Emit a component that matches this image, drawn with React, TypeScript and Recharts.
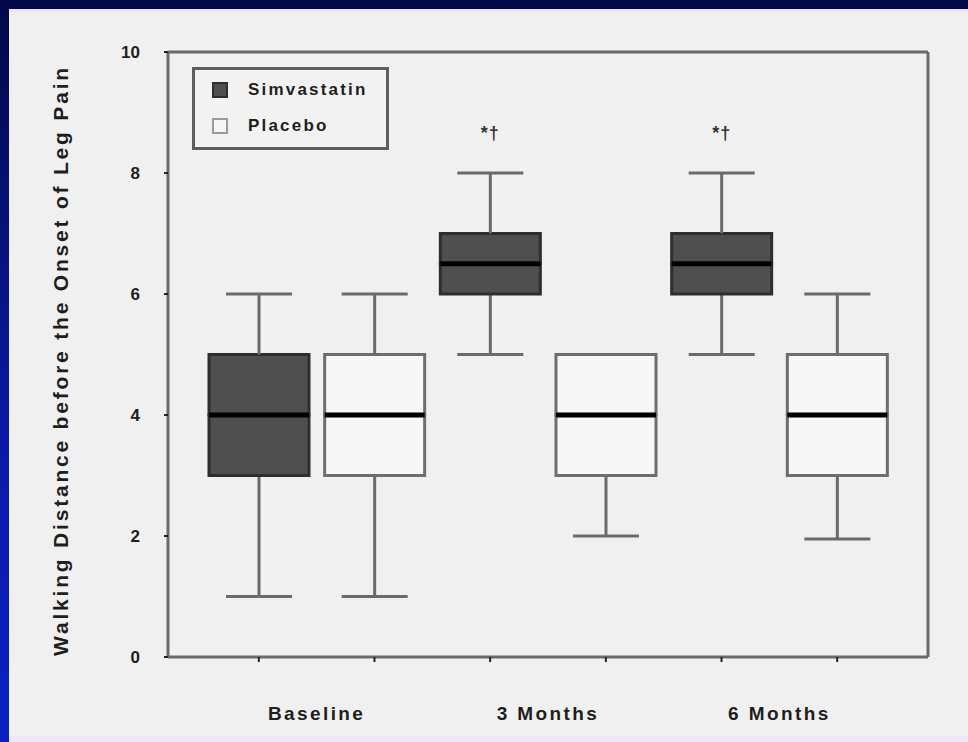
import React from "react";
import {
  ComposedChart,
  Bar,
  XAxis,
  YAxis,
  LabelList,
} from "recharts";

// box plot summary per slot
const slots = ["b-s", "b-p", "3-s", "3-p", "6-s", "6-p"];
const groups = ["Baseline", "Baseline", "3 Months", "3 Months", "6 Months", "6 Months"];
const arms = ["Simvastatin", "Placebo", "Simvastatin", "Placebo", "Simvastatin", "Placebo"];
const mins = [1, 1, 5, 2, 5, 1.95];
const q1s = [3, 3, 6, 3, 6, 3];
const medians = [4, 4, 6.5, 4, 6.5, 4];
const q3s = [5, 5, 7, 5, 7, 5];
const maxs = [6, 6, 8, 5, 8, 6];
const marks = ["", "", "*†", "", "*†", ""];

const yTicks = [0, 2, 4, 6, 8, 10];
const legendItems = ["Simvastatin", "Placebo"];

const FONT = "'Liberation Sans', Arial, sans-serif";
const DARK_FILL = "#4f4f4f";
const DARK_STROKE = "#2e2e2e";
const LIGHT_FILL = "#f7f7f7";
const LIGHT_STROKE = "#6e6e6e";
const AXIS = "#6a6a6a";

const data = slots.map((slot, i) => ({
  slot,
  group: groups[i],
  arm: arms[i],
  mark: marks[i],
  base: mins[i],
  lowWhisker: q1s[i] - mins[i],
  lowBox: medians[i] - q1s[i],
  upBox: q3s[i] - medians[i],
  upWhisker: maxs[i] - q3s[i],
}));

const strokeFor = (arm: string) => (arm === "Simvastatin" ? DARK_STROKE : LIGHT_STROKE);
const fillFor = (arm: string) => (arm === "Simvastatin" ? DARK_FILL : LIGHT_FILL);

const LowWhisker = (props: any) => {
  const { x, y, width, height } = props;
  if (!height || height <= 0) return null;
  const cx = x + width / 2;
  const cap = width * 0.33;
  return (
    <g stroke={AXIS} strokeWidth={3}>
      <line x1={cx} x2={cx} y1={y} y2={y + height} />
      <line x1={cx - cap} x2={cx + cap} y1={y + height} y2={y + height} />
    </g>
  );
};

const UpWhisker = (props: any) => {
  const { x, y, width, height } = props;
  if (!height || height <= 0) return null;
  const cx = x + width / 2;
  const cap = width * 0.33;
  return (
    <g stroke={AXIS} strokeWidth={3}>
      <line x1={cx} x2={cx} y1={y} y2={y + height} />
      <line x1={cx - cap} x2={cx + cap} y1={y} y2={y} />
    </g>
  );
};

const BoxHalf = (props: any) => {
  const { x, y, width, height, payload } = props;
  if (!height || height <= 0) return null;
  return (
    <rect
      x={x}
      y={y}
      width={width}
      height={height}
      fill={fillFor(payload.arm)}
      stroke={strokeFor(payload.arm)}
      strokeWidth={3}
    />
  );
};

const UpperBox = (props: any) => {
  const { x, y, width, height, payload } = props;
  if (height == null || height < 0) return null;
  return (
    <g>
      <rect
        x={x}
        y={y}
        width={width}
        height={height}
        fill={fillFor(payload.arm)}
        stroke={strokeFor(payload.arm)}
        strokeWidth={3}
      />
      {/* median */}
      <line x1={x} x2={x + width} y1={y + height} y2={y + height} stroke="#000" strokeWidth={5} />
    </g>
  );
};

const MarkLabel = (props: any) => {
  const { x, y, width, value } = props;
  if (!value) return null;
  return (
    <text
      x={x + width / 2}
      y={y - 34}
      textAnchor="middle"
      fontFamily={FONT}
      fontWeight="bold"
      fontSize={18}
      letterSpacing={1}
      fill="#333"
    >
      {value}
    </text>
  );
};

const YLabel = (props: any) => {
  const vb = props.viewBox || { x: 0, y: 52, height: 605 };
  const cx = vb.x + 62;
  const cy = vb.y + vb.height / 2 + 6;
  return (
    <text
      x={cx}
      y={cy}
      transform={`rotate(-90 ${cx} ${cy})`}
      textAnchor="middle"
      dominantBaseline="middle"
      fontFamily={FONT}
      fontWeight="bold"
      fontSize={21}
      letterSpacing={2.8}
      fill="#1e1e1e"
    >
      Walking Distance before the Onset of Leg Pain
    </text>
  );
};

export default function App() {
  return (
    <div
      style={{
        position: "absolute",
        left: 0,
        top: 0,
        width: 968,
        height: 742,
        overflow: "hidden",
        background: "linear-gradient(180deg, #020848 0%, #0a1aa8 60%, #0b1fc4 100%)",
      }}
    >
      <div
        style={{
          position: "absolute",
          left: 9,
          top: 9,
          right: 0,
          bottom: 0,
          background: "#f0f0f0",
          borderTop: "3px solid #e8e8f6",
          borderBottom: "6px solid #ece8fa",
        }}
      />
      <div style={{ position: "absolute", left: 0, top: 0 }}>
        <ComposedChart
          width={968}
          height={742}
          data={data}
          margin={{ top: 51, right: 39, bottom: 0, left: 0 }}
          barSize={100}
        >
          <XAxis
            dataKey="slot"
            padding={{ left: 33, right: 33 }}
            height={30}
            axisLine={{ stroke: AXIS, strokeWidth: 3 }}
            tickLine={{ stroke: "#222", strokeWidth: 2 }}
            tickSize={5}
            tickFormatter={() => ""}
          />
          <XAxis
            xAxisId="group"
            dataKey="group"
            allowDuplicatedCategory={false}
            padding={{ left: 33, right: 33 }}
            height={55}
            axisLine={false}
            tickLine={false}
            tickMargin={14}
            tick={{ fontFamily: FONT, fontWeight: "bold", fontSize: 19, fill: "#1e1e1e", letterSpacing: 2.4 } as any}
          />
          <XAxis
            xAxisId="top"
            dataKey="slot"
            orientation="top"
            height={1}
            tick={false}
            tickLine={false}
            axisLine={{ stroke: AXIS, strokeWidth: 3 }}
          />
          <YAxis
            domain={[0, 10]}
            ticks={yTicks}
            width={168}
            axisLine={{ stroke: AXIS, strokeWidth: 3 }}
            tickLine={{ stroke: "#222", strokeWidth: 2 }}
            tickSize={4}
            tickMargin={24}
            tick={{ fontFamily: FONT, fontWeight: "bold", fontSize: 17, fill: "#1e1e1e" }}
            label={{ content: YLabel } as any}
          />
          <YAxis
            yAxisId="right"
            orientation="right"
            domain={[0, 10]}
            width={1}
            tick={false}
            tickLine={false}
            axisLine={{ stroke: AXIS, strokeWidth: 3 }}
          />
          <Bar dataKey="base" stackId="box" fill="transparent" isAnimationActive={false} />
          <Bar dataKey="lowWhisker" stackId="box" shape={LowWhisker} isAnimationActive={false} />
          <Bar dataKey="lowBox" stackId="box" shape={BoxHalf} isAnimationActive={false} />
          <Bar dataKey="upBox" stackId="box" shape={UpperBox} isAnimationActive={false} />
          <Bar dataKey="upWhisker" stackId="box" shape={UpWhisker} isAnimationActive={false}>
            <LabelList dataKey="mark" content={MarkLabel} />
          </Bar>
        </ComposedChart>
      </div>
      {/* legend */}
      <div
        style={{
          position: "absolute",
          left: 192,
          top: 67,
          width: 191,
          height: 77,
          border: "3px solid #5e5e5e",
          background: "#f2f2f2",
          fontFamily: FONT,
          fontWeight: "bold",
          fontSize: 17,
          letterSpacing: 2.2,
          color: "#1e1e1e",
        }}
      >
        {legendItems.map((name, i) => (
          <div
            key={name}
            style={{ position: "absolute", left: 17, top: 10 + i * 36, display: "flex", alignItems: "center" }}
          >
            <span
              style={{
                display: "inline-block",
                width: 12,
                height: 12,
                background: fillFor(name),
                border: `2px solid ${name === "Simvastatin" ? DARK_STROKE : "#9a9a9a"}`,
                marginRight: 20,
              }}
            />
            <span>{name}</span>
          </div>
        ))}
      </div>
    </div>
  );
}
